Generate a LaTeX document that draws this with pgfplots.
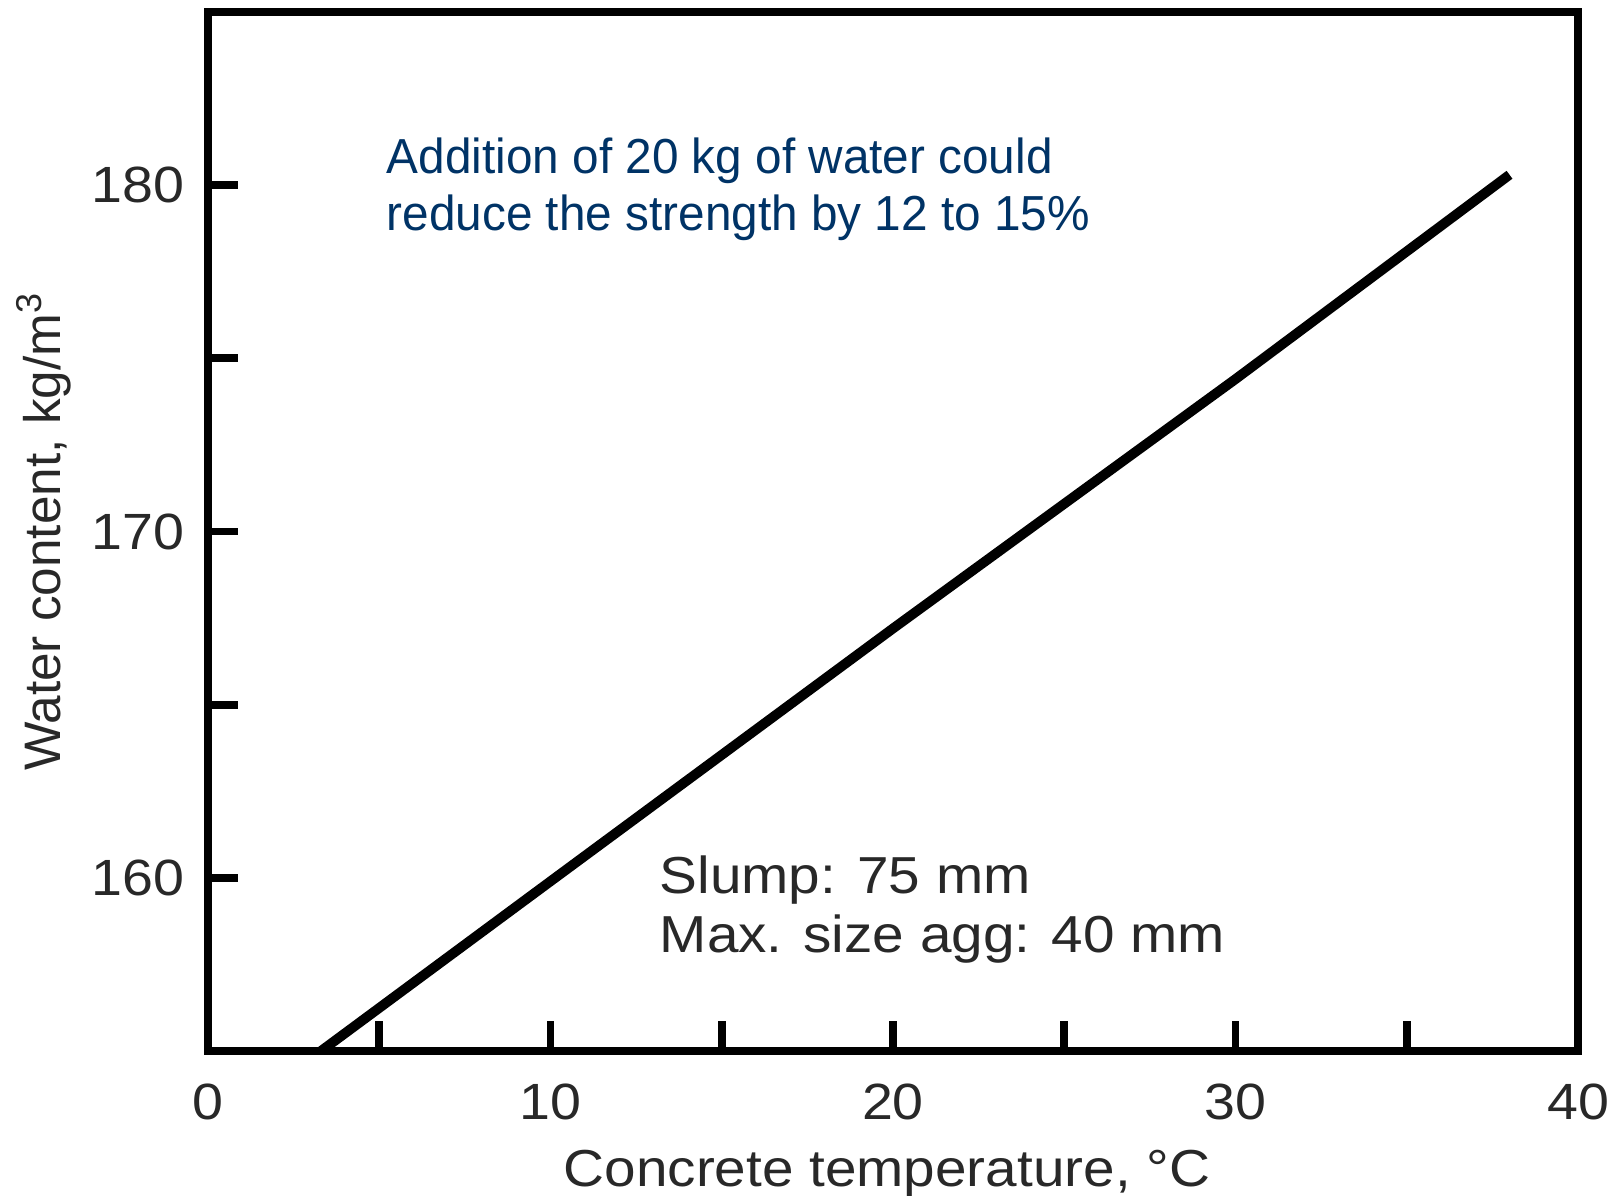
\documentclass[border=0pt]{standalone}
\usepackage{fontspec}
\setmainfont{Liberation Sans}
\newfontfamily\widefont[FakeStretch=1.09]{Liberation Sans}
\newfontfamily\notefont[FakeStretch=0.97]{Liberation Sans}
\usepackage{pgfplots}
\pgfplotsset{compat=1.18}
\definecolor{navy}{RGB}{0,51,102}
\definecolor{txt}{RGB}{40,40,40}

\begin{document}
\begin{tikzpicture}
\begin{axis}[
  name=ax,
  scale only axis,
  width=13.70cm, height=10.39cm,
  xmin=0, xmax=40, ymin=155, ymax=185,
  xtick={0,10,...,40}, minor xtick={5,15,25,35},
  ytick={160,170,180}, minor ytick={165,175},
  tick pos=left, tick align=inside,
  major tick length=0.3cm, minor tick length=0.3cm,
  axis line style={line width=2.4pt, line cap=rect},
  every tick/.append style={black, line width=2.2pt},
  every minor tick/.append style={black, line width=2.2pt},
  /pgf/number format/assume math mode=true,
  ticklabel style={font=\widefont\fontsize{14.5}{17}\selectfont, text=txt, inner sep=0pt},
  xticklabel style={anchor=north, yshift=-0.32cm},
  yticklabel style={anchor=east, xshift=-0.23cm},
  xlabel={Concrete temperature, °C},
  ylabel={Water content, kg/m\textsuperscript{3}},
  xlabel style={font=\widefont\fontsize{14.8}{17}\selectfont, text=txt,
    at={(axis description cs:0.4956,-0.130)}, anchor=base},
  ylabel style={font=\fontsize{14.6}{17}\selectfont, text=txt,
    at={(axis description cs:-0.108,0.5)}, anchor=base},
]
\addplot[black, line width=2.8pt] coordinates {(3.3,155) (10,159.9) (20,167.2) (30,174.4) (38,180.3)};

\node[anchor=base west, text=navy, font=\notefont\fontsize{14}{16}\selectfont, inner sep=0pt] at (axis cs:5.2,180.35) {Addition of 20 kg of water could};
\node[anchor=base west, text=navy, font=\notefont\fontsize{14}{16}\selectfont, inner sep=0pt] at (axis cs:5.2,178.69) {reduce the strength by 12 to 15\%};
\node[anchor=base west, text=txt, font=\widefont\fontsize{14.8}{17}\selectfont, inner sep=0pt] at (axis cs:13.17,159.56) {Slump: 75 mm};
\node[anchor=base west, text=txt, font=\widefont\fontsize{14.8}{17}\selectfont, inner sep=0pt] at (axis cs:13.17,157.83) {Max. size agg: 40 mm};
\end{axis}
\pgfresetboundingbox
\path[use as bounding box] ([xshift=-2.08cm,yshift=-1.44cm]ax.south west) rectangle ([xshift=0.36cm,yshift=0.12cm]ax.north east);
\end{tikzpicture}
\end{document}
